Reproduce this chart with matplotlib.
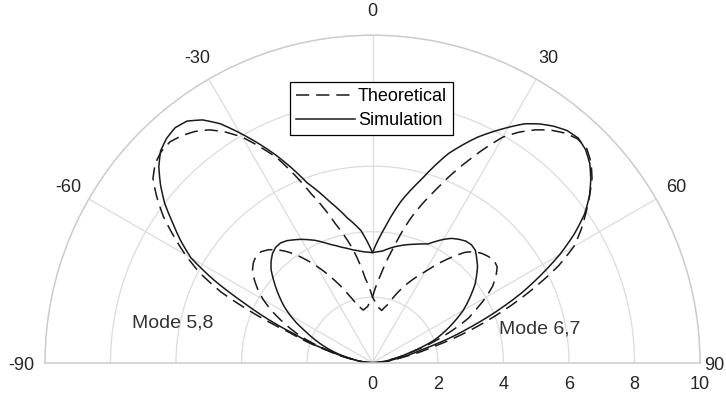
import numpy as np
import matplotlib
matplotlib.use("Agg")
import matplotlib.pyplot as plt

plt.rcParams['font.family'] = ['Liberation Sans', 'DejaVu Sans']
plt.rcParams['lines.scale_dashes'] = False

# Elevation angle (degrees, 0 = broadside, clockwise positive); finer steps over the lobe peaks
theta_deg = [-90, -85, -80, -75, -70, -65,
             -62.5, -60, -57.5, -55, -52.5, -50, -47.5, -45, -42.5, -40, -37.5, -35, -32.5, -30,
             -25, -20, -15, -10, -5, 0, 5, 10, 15, 20, 25,
             30, 32.5, 35, 37.5, 40, 42.5, 45, 47.5, 50, 52.5, 55, 57.5, 60, 62.5,
             65, 70, 75, 80, 85, 90]

# Simulated gain patterns
sim_mode58 = [0.0, 0.3, 0.6, 1.35, 2.5, 4.35,
              5.45, 6.4, 6.95, 7.45, 8.0, 8.45, 8.85, 9.15, 9.3, 9.37, 9.3, 9.05, 8.65, 8.1,
              7.0, 5.85, 5.1, 4.5, 4.05, 3.36, 3.42, 3.58, 3.72, 3.85, 4.0,
              4.35, 4.5, 4.6, 4.68, 4.7, 4.65, 4.5, 4.35, 4.15, 3.95, 3.7, 3.45, 3.2, 2.9,
              2.6, 2.0, 1.15, 0.6, 0.28, 0.0]
sim_mode67 = [0.0, 0.3, 0.6, 1.15, 1.7, 2.25,
              2.6, 2.91, 3.2, 3.45, 3.7, 3.95, 4.2, 4.38, 4.52, 4.6, 4.61, 4.55, 4.45, 4.35,
              4.12, 3.85, 3.65, 3.5, 3.4, 3.36, 4.1, 5.0, 5.8, 6.8, 7.6,
              8.3, 8.65, 8.9, 9.1, 9.25, 9.3, 9.2, 9.0, 8.7, 8.35, 7.9, 7.3, 6.6, 5.8,
              5.0, 3.2, 1.6, 0.8, 0.35, 0.0]

# Theoretical gain patterns
theo_mode58 = [0.0, 0.3, 0.7, 1.4, 2.7, 5.1,
               5.95, 6.6, 7.2, 7.8, 8.3, 8.75, 9.0, 9.12, 9.15, 9.05, 8.9, 8.68, 8.35, 7.95,
               6.9, 5.5, 4.4, 3.55, 2.6, 2.0, 1.72, 1.62, 1.85, 2.3, 2.75,
               3.2, 3.5, 3.8, 4.1, 4.4, 4.6, 4.72, 4.8, 4.85, 4.8, 4.6, 4.35, 4.0, 3.6,
               3.25, 2.2, 1.2, 0.6, 0.25, 0.0]
theo_mode67 = [0.0, 0.25, 0.6, 1.3, 2.3, 3.1,
               3.5, 3.85, 4.15, 4.4, 4.62, 4.75, 4.82, 4.8, 4.68, 4.5, 4.27, 4.0, 3.7, 3.4,
               2.8, 2.25, 1.82, 1.63, 1.72, 2.0, 2.65, 3.5, 4.6, 5.6, 6.75,
               7.95, 8.35, 8.68, 8.95, 9.15, 9.27, 9.25, 9.05, 8.75, 8.35, 7.95, 7.55, 7.1, 6.4,
               5.5, 3.7, 2.0, 0.9, 0.4, 0.0]

theta_ticks = [-60, -30, 0, 30, 60]
theta_tick_labels = ['-60', '-30', '0', '30', '60']
r_ticks = [0, 2, 4, 6, 8, 10]
r_tick_labels = ['0', '2', '4', '6', '8', '10']

text_color = '#262626'
grid_color = '#dcdcdc'
fs = 13

W, H = 726, 396
fig = plt.figure(figsize=(W / 100, H / 100), dpi=100)
# Half-disc centre and radius in pixels; the polar box is square and the
# half-disc sits centred vertically inside it.
cx, cy, R = 372.5, 362.7, 327.5
box_top = cy - R / 2 - R
ax = fig.add_axes([(cx - R) / W, (H - (box_top + 2 * R)) / H, 2 * R / W, 2 * R / H],
                  projection='polar')
ax.set_theta_zero_location('N')
ax.set_theta_direction(-1)
ax.set_thetamin(-90)
ax.set_thetamax(90)
ax.set_rlim(0, 10)

ax.set_xticks(np.deg2rad(theta_ticks))
ax.set_xticklabels([])
ax.set_yticks([2, 4, 6, 8])
ax.set_yticklabels([])
ax.tick_params(length=0)
ax.grid(True, color=grid_color, linewidth=0.9)
for name in ['polar', 'start', 'end']:
    ax.spines[name].set_color('#cbcbcb')
    ax.spines[name].set_linewidth(1.1)
ax.spines['inner'].set_visible(False)

th = np.deg2rad(theta_deg)
dash = (0, (9.5, 5.0))
lines = []
lines += ax.plot(th, theo_mode58, color='#1a1a1a', lw=1.1, linestyle=dash, label='Theoretical')
lines += ax.plot(th, theo_mode67, color='#1a1a1a', lw=1.1, linestyle=dash)
lines += ax.plot(th, sim_mode58, color='#1a1a1a', lw=1.1, label='Simulation')
lines += ax.plot(th, sim_mode67, color='#1a1a1a', lw=1.1)
for ln in lines:
    ln.get_path()._interpolation_steps = 12

# Angle labels around the arc
for ang, lab in zip(theta_ticks, theta_tick_labels):
    ax.text(np.deg2rad(ang), 10.72, lab, ha='center', va='center',
            fontsize=fs, color=text_color, clip_on=False)
fig.text(21.5 / W, 1 - 365 / H, '-90', ha='center', va='center', fontsize=fs, color=text_color)
fig.text(724 / W, 1 - 365 / H, '90', ha='right', va='center', fontsize=fs, color=text_color)

# Radius labels under the baseline
for rv, lab in zip(r_ticks, r_tick_labels):
    ax.annotate(lab, xy=(np.deg2rad(90), rv), xytext=(0, -22),
                textcoords='offset pixels', ha='center', va='center',
                fontsize=fs, color=text_color, annotation_clip=False)

leg = ax.legend(handles=[lines[0], lines[2]], loc='center',
                bbox_to_anchor=(371.5 / W, 1 - 108.5 / H), bbox_transform=fig.transFigure,
                frameon=True, fancybox=False, edgecolor='black', fontsize=fs,
                handlelength=3.3, handletextpad=0.15, borderpad=0.3,
                labelspacing=0.4, borderaxespad=0, framealpha=1)
leg.get_frame().set_linewidth(0.9)

fig.text(173 / W, 1 - 323 / H, 'Mode 5,8', ha='center', va='center', fontsize=14, color='#333333')
fig.text(540 / W, 1 - 329 / H, 'Mode 6,7', ha='center', va='center', fontsize=14, color='#333333')

fig.savefig('out.png', dpi=100)
